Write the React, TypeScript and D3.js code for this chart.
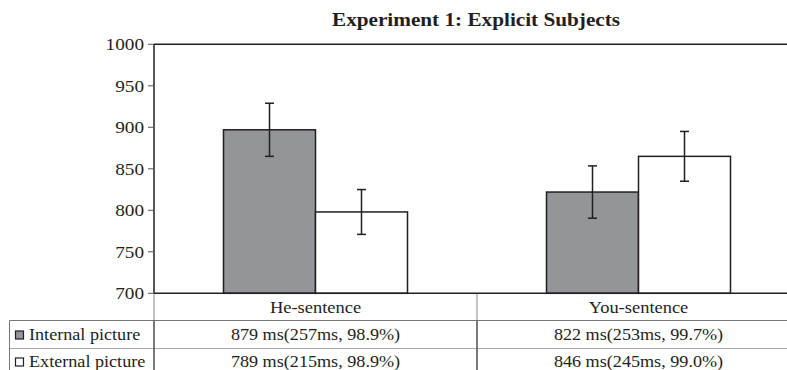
import React from "react";
import * as d3 from "d3";

const categories = ["He-sentence", "You-sentence"];
const seriesNames = ["Internal picture", "External picture"];
const internalValues = [897, 822];
const externalValues = [798, 865];
const internalErrors = [32, 31.5];
const externalErrors = [27, 30];
const internalTable = ["879 ms(257ms, 98.9%)", "822 ms(253ms, 99.7%)"];
const externalTable = ["789 ms(215ms, 98.9%)", "846 ms(245ms, 99.0%)"];
const yTicks = [700, 750, 800, 850, 900, 950, 1000];
const title = "Experiment 1: Explicit Subjects";

const W = 787;
const H = 370;
const left = 154;
const right = 800;
const top = 44.3;
const bottom = 293.3;
const ink = "#231f20";
const fonts = "'Liberation Serif', 'Times New Roman', serif";
const SX = 1.1;

function T({ x, y, children, size = 17, weight = "normal", anchor = "middle" }: any) {
  return (
    <text
      transform={`translate(${x},${y}) scale(${SX},1)`}
      fontFamily={fonts}
      fontSize={size}
      fontWeight={weight}
      textAnchor={anchor}
      fill={ink}
      dominantBaseline="central"
    >
      {children}
    </text>
  );
}

export default function App() {
  const y = d3.scaleLinear().domain([700, 1000]).range([bottom, top]);
  const x0 = d3.scaleBand<string>().domain(categories).range([left, right]).paddingInner(0).paddingOuter(0);
  const groupW = 184;
  const x1 = d3.scaleBand<string>().domain(seriesNames).range([0, groupW]);
  const fills = ["#939598", "#ffffff"];
  const vals = [internalValues, externalValues];
  const errs = [internalErrors, externalErrors];
  const tables = [internalTable, externalTable];

  const rowY = [307, 335, 362];
  const line1 = 320.5;
  const line2 = 348.5;
  const tableLeft = 9.5;

  return (
    <svg width={W} height={H} style={{ position: "absolute", left: 0, top: 0, background: "#fff" }}>
      <rect x={0} y={0} width={W} height={H} fill="#fff" />
      <T x={(left + right) / 2 - 1} y={19.5} size={19.3} weight="bold">{title}</T>

      {/* table grid */}
      <line x1={tableLeft} x2={right} y1={line1} y2={line1} stroke="#777" strokeWidth={1} />
      <line x1={tableLeft} x2={right} y1={line2} y2={line2} stroke="#aaa" strokeWidth={1} />
      <line x1={tableLeft} x2={tableLeft} y1={line1} y2={H} stroke="#777" strokeWidth={1} />
      {categories.map((c) => (
        <line key={c} x1={x0(c)!} x2={x0(c)!} y1={bottom} y2={H} stroke="#888" strokeWidth={1} />
      ))}
      <line x1={x0(categories[1])!} x2={x0(categories[1])!} y1={line1} y2={H} stroke="#333" strokeWidth={1} />
      <line x1={left} x2={left} y1={line1} y2={H} stroke="#333" strokeWidth={1} />

      {/* bars */}
      {categories.map((c, ci) => {
        const gx = x0(c)! + (x0.bandwidth() - groupW) / 2;
        return (
          <g key={c}>
            {seriesNames.map((s, si) => {
              const v = vals[si][ci];
              const e = errs[si][ci];
              const bx = gx + x1(s)!;
              const cx = bx + x1.bandwidth() / 2;
              return (
                <g key={s}>
                  <rect x={bx} y={y(v)} width={x1.bandwidth()} height={bottom - y(v)} fill={fills[si]} stroke={ink} strokeWidth={1.5} />
                  <line x1={cx} x2={cx} y1={y(v + e)} y2={y(v - e)} stroke={ink} strokeWidth={1.5} />
                  <line x1={cx - 4.5} x2={cx + 4.5} y1={y(v + e)} y2={y(v + e)} stroke={ink} strokeWidth={1.5} />
                  <line x1={cx - 4.5} x2={cx + 4.5} y1={y(v - e)} y2={y(v - e)} stroke={ink} strokeWidth={1.5} />
                </g>
              );
            })}
          </g>
        );
      })}

      {/* axes / frame */}
      <line x1={left} x2={right} y1={top} y2={top} stroke={ink} strokeWidth={1.5} />
      <line x1={left} x2={right} y1={bottom} y2={bottom} stroke={ink} strokeWidth={1.5} />
      <line x1={left} x2={left} y1={top} y2={bottom} stroke={ink} strokeWidth={1.5} />
      {yTicks.map((t) => (
        <g key={t}>
          <line x1={left - 6} x2={left} y1={y(t)} y2={y(t)} stroke="#555" strokeWidth={1} />
          <T x={left - 10} y={y(t)} size={17.5} anchor="end">{t}</T>
        </g>
      ))}

      {/* table text */}
      {categories.map((c) => (
        <T key={c} x={x0(c)! + x0.bandwidth() / 2} y={rowY[0]} size={16.8}>{c}</T>
      ))}
      {seriesNames.map((s, si) => (
        <g key={s}>
          <rect x={15.5} y={rowY[si + 1] - 4} width={8} height={8} fill={fills[si]} stroke={ink} strokeWidth={1.2} />
          <T x={29} y={rowY[si + 1]} size={16.5} anchor="start">{s}</T>
          {categories.map((c, ci) => (
            <T key={c} x={x0(c)! + x0.bandwidth() / 2} y={rowY[si + 1]} size={16.5}>{tables[si][ci]}</T>
          ))}
        </g>
      ))}
    </svg>
  );
}
